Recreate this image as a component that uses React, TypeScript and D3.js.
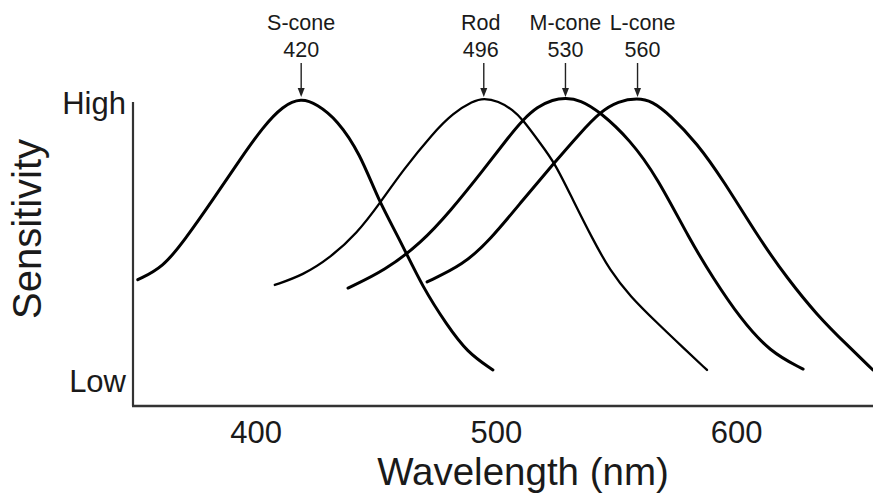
import React from 'react';
import * as d3 from 'd3';

// Spectral sensitivity curves: [wavelength (nm), relative sensitivity]
const sConeCurve: [number, number][] = [
  [352, 0.41], [362.5, 0.45], [371.6, 0.54], [383.3, 0.67], [394.5, 0.8],
  [404.1, 0.906], [412.4, 0.975], [420, 1.0], [426.6, 0.98], [434.9, 0.93],
  [444.5, 0.82], [452, 0.67], [461.1, 0.54], [470.7, 0.383], [480.7, 0.263],
  [489, 0.175], [499.8, 0.117],
];

const rodCurve: [number, number][] = [
  [409, 0.393], [420.8, 0.425], [432, 0.481], [443.2, 0.56], [452.8, 0.659],
  [462.4, 0.766], [474.9, 0.886], [483.2, 0.951], [491.5, 0.99], [496, 1.0],
  [502, 0.99], [508.2, 0.961], [512.3, 0.929], [519.4, 0.854], [525.6, 0.789],
  [533.1, 0.669], [541.5, 0.539], [548.5, 0.44], [556.9, 0.356], [568.1, 0.27],
  [578.9, 0.19], [588.9, 0.117],
];

const mConeCurve: [number, number][] = [
  [439.5, 0.383], [454.9, 0.44], [470, 0.53], [482, 0.632], [495.8, 0.766],
  [507, 0.88], [512.3, 0.929], [518.2, 0.971], [524.8, 0.995], [530, 1.0],
  [536.1, 0.994], [544.4, 0.955], [556.9, 0.864], [568.1, 0.744], [581.8, 0.539],
  [591.4, 0.416], [602.6, 0.286], [615.1, 0.175], [628.9, 0.12],
];

const lConeCurve: [number, number][] = [
  [472.4, 0.403], [487.4, 0.458], [498.6, 0.539], [512.3, 0.669], [525.6, 0.792],
  [536.1, 0.886], [544.4, 0.955], [552, 0.99], [560, 1.0], [566, 0.99],
  [573.5, 0.945], [584.7, 0.854], [595.6, 0.734], [611, 0.539], [622.2, 0.416],
  [634.7, 0.295], [647.2, 0.198], [658, 0.117],
];

const receptorNames = ['S-cone', 'Rod', 'M-cone', 'L-cone'];
const peakWavelengths = [420, 496, 530, 560];
const receptorCurves = [sConeCurve, rodCurve, mConeCurve, lConeCurve];

const xTickValues = [400, 500, 600];
const yTickValues = [0.984, 0.081];
const yTickLabels = ['High', 'Low'];

const WIDTH = 873;
const HEIGHT = 495;
const FONT = '"Liberation Sans", Arial, Helvetica, sans-serif';
const INK = '#1a1a1a';

export default function App() {
  const x = d3.scaleLinear().domain([350, 658]).range([133, 873]);
  const y = d3.scaleLinear().domain([0, 1]).range([406, 98]);

  const line = d3
    .line<[number, number]>()
    .x((d) => x(d[0]))
    .y((d) => y(d[1]))
    .curve(d3.curveBasis);

  const strokeWidths = [3, 2.3, 3, 3];
  // horizontal nudges so the crowded peak labels do not collide
  const labelNudge = [0, -3, 0, 5];

  return (
    <svg
      width={WIDTH}
      height={HEIGHT}
      style={{ position: 'absolute', left: 0, top: 0, background: '#fff' }}
      fontFamily={FONT}
    >
      <rect width={WIDTH} height={HEIGHT} fill="#fff" />

      {/* axes */}
      <line x1={x(350)} x2={x(350)} y1={102} y2={y(0)} stroke="#333" strokeWidth={2.2} />
      <line x1={x(350) - 1} x2={WIDTH} y1={y(0)} y2={y(0)} stroke="#333" strokeWidth={2.4} />

      {/* y tick labels */}
      {yTickValues.map((v, i) => (
        <text
          key={yTickLabels[i]}
          x={126}
          y={y(v)}
          dy="0.35em"
          textAnchor="end"
          fontSize={31}
          fill={INK}
        >
          {yTickLabels[i]}
        </text>
      ))}

      {/* x tick labels */}
      {xTickValues.map((t) => (
        <text key={t} x={x(t) + 3} y={443} textAnchor="middle" fontSize={31} fill={INK}>
          {t}
        </text>
      ))}

      {/* axis titles */}
      <text x={523} y={485} textAnchor="middle" fontSize={38.5} fill={INK}>
        Wavelength (nm)
      </text>
      <text
        transform={`translate(41, 229) rotate(-90)`}
        textAnchor="middle"
        fontSize={40}
        fill={INK}
      >
        Sensitivity
      </text>

      {/* sensitivity curves */}
      {receptorCurves.map((c, i) => (
        <path
          key={receptorNames[i]}
          d={line(c) ?? ''}
          fill="none"
          stroke="#000"
          strokeWidth={strokeWidths[i]}
          strokeLinecap="round"
        />
      ))}

      {/* peak annotations */}
      {receptorNames.map((name, i) => {
        const px = x(peakWavelengths[i]);
        const tx = px + labelNudge[i];
        const tipY = y(1) - 1;
        return (
          <g key={name}>
            <text x={tx} y={30} textAnchor="middle" fontSize={21.5} fill={INK}>
              {name}
            </text>
            <text x={tx} y={57} textAnchor="middle" fontSize={21.5} fill={INK}>
              {peakWavelengths[i]}
            </text>
            <line x1={px} x2={px} y1={63} y2={tipY - 6} stroke="#222" strokeWidth={1.4} />
            <polygon
              points={`${px - 3.5},${tipY - 9} ${px + 3.5},${tipY - 9} ${px},${tipY}`}
              fill="#222"
            />
          </g>
        );
      })}
    </svg>
  );
}
